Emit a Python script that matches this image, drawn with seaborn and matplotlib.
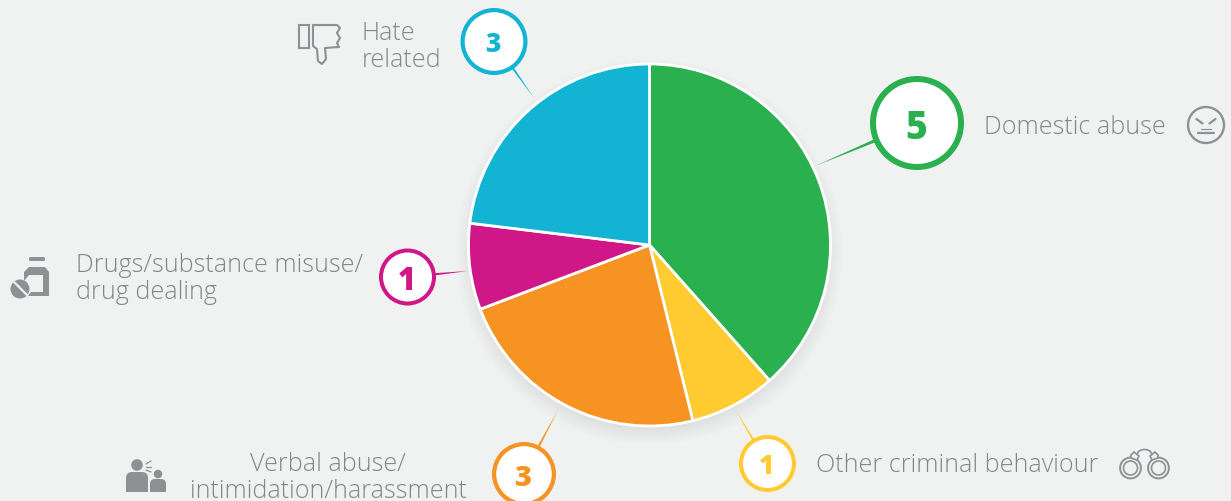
import numpy as np
import matplotlib
matplotlib.use("Agg")
import matplotlib.pyplot as plt
from matplotlib.patches import Circle, Polygon, FancyBboxPatch, Rectangle, Arc
import seaborn as sns

categories = ["Domestic abuse", "Other criminal behaviour",
              "Verbal abuse/\nintimidation/harassment",
              "Drugs/substance misuse/\ndrug dealing", "Hate\nrelated"]
values = [5, 1, 3, 1, 3]
colors = ["#2bb04f", "#ffcb31", "#f69322", "#cf1787", "#13b4d3"]

BG = "#f0f2f1"; GREY = "#8e9194"; TXT = "#84878a"
sns.set_theme(style="white", rc={"figure.facecolor": BG, "axes.facecolor": BG})
plt.rcParams["font.family"] = ["Open Sans", "DejaVu Sans"]
palette = sns.color_palette(colors)

W, H = 1231, 502
fig = plt.figure(figsize=(W/100, H/100), dpi=100)
ax = fig.add_axes([0, 0, 1, 1])
Y = lambda y: H - y

# soft shadow
cx, cy, R = 649.5, 246, 181
for i in range(18):
    ax.add_patch(Circle((cx, Y(cy + 7)), R + 12 - i, fc="#777777", ec="none", alpha=0.009, zorder=1))

ax.pie(values, colors=palette, startangle=90, counterclock=False, center=(cx, Y(cy)), radius=R,
       wedgeprops=dict(ec="white", lw=2.0, zorder=2), frame=False)
ax.set_xlim(0, W); ax.set_ylim(0, H); ax.set_aspect("auto"); ax.axis("off")
fig.patch.set_facecolor(BG)

# badges: centre x, y, outer radius, stroke, font size, leader tip
badges = [(917, 124, 47, 6, 27, (815, 167)),
          (767.5, 464.5, 28.5, 4, 19, (736, 412)),
          (524, 475, 32, 4.2, 21, (558, 411)),
          (407.5, 278, 28.5, 4, 22, (468, 272)),
          (494, 42.5, 33.5, 4.2, 19, (534, 99))]
for (bx, by, br, lw, fs, tip), v, c in zip(badges, values, palette):
    d = np.array([tip[0]-bx, tip[1]-by], float); d /= np.hypot(*d)
    n = np.array([-d[1], d[0]])
    base = np.array([bx, by]) + d * (br - 1)
    hw = 1.5 if br > 40 else 1.1
    pts = [base + n*hw, base - n*hw, tip]
    ax.add_patch(Polygon([(p[0], Y(p[1])) for p in pts], fc=c, ec="none", zorder=3))
    ax.add_patch(Circle((bx, Y(by)), br - lw/2, fc="white", ec=c, lw=lw*0.72, zorder=4))
    ax.text(bx - 1, Y(by), str(v), color=c, fontsize=fs, fontweight=800,
            ha="center", va="center_baseline", zorder=5)

# labels
TS = 18.1
LBL = dict(color=TXT, fontsize=TS, va="center", fontweight="light", linespacing=1.08)
ax.text(984, Y(128), categories[0], ha="left", **LBL)
ax.text(816, Y(466), categories[1], ha="left", **LBL)
ax.text(328, Y(478), categories[2], ha="center", **LBL)
ax.text(76, Y(279), categories[3], ha="left", **LBL)
ax.text(362, Y(47), categories[4], ha="left", **LBL)

# icon: angry face
IL = dict(color=GREY, lw=1.6, solid_capstyle="round", zorder=5)
ax.add_patch(Circle((1206, Y(126)), 18, fc="none", ec=GREY, lw=1.7))
ax.plot([1196.5, 1202.5], [Y(120), Y(124.5)], **IL)
ax.plot([1215.5, 1209.5], [Y(120), Y(124.5)], **IL)
ax.plot([1198, 1214], [Y(134), Y(134)], **IL)
ax.plot([1201, 1211], [Y(130), Y(130)], color=GREY, lw=0.9)

# icon: thumbs down
ax.add_patch(Rectangle((299, Y(49)), 10, 23, fc="none", ec=GREY, lw=1.5))
thumb = [(313, 26), (337, 26), (340, 29), (337, 34), (340, 39), (337, 44), (339, 48), (325, 49),
         (326, 60), (322, 65), (318, 62), (317, 50), (313, 47)]
ax.add_patch(Polygon([(x, Y(y)) for x, y in thumb], closed=True, fc="none", ec=GREY, lw=1.5, joinstyle="round"))

# icon: pills
ax.add_patch(FancyBboxPatch((29, Y(262)), 16, 4, boxstyle="round,pad=0,rounding_size=1.5", fc=GREY, ec="none"))
body = [(29, 268), (45, 268), (49, 273), (49, 297), (28, 297), (31, 293), (43, 293), (43, 276), (29, 276), (24, 282), (24, 273)]
ax.add_patch(Polygon([(x, Y(y)) for x, y in body], closed=True, fc=GREY, ec="none"))
ax.add_patch(Circle((20, Y(290)), 9.5, fc=GREY, ec="none"))
ax.plot([14, 27], [Y(283), Y(296)], color=BG, lw=1.6)

# icon: two people
ax.add_patch(Circle((137, Y(466)), 5.8, fc=GREY, ec="none"))
ax.add_patch(FancyBboxPatch((126, Y(493)), 22, 20, boxstyle="round,pad=0,rounding_size=6", fc=GREY, ec="none"))
ax.add_patch(Rectangle((126, Y(493)), 22, 8, fc=GREY, ec="none"))
ax.add_patch(Circle((158, Y(475)), 4.3, fc=GREY, ec="none"))
ax.add_patch(FancyBboxPatch((150, Y(493)), 16, 13, boxstyle="round,pad=0,rounding_size=5", fc=GREY, ec="none"))
ax.add_patch(Rectangle((150, Y(493)), 16, 6, fc=GREY, ec="none"))
for a, b in [((146, 465), (151, 462)), ((146, 468), (151, 468)), ((146, 471), (151, 473))]:
    ax.plot([a[0], b[0]], [Y(a[1]), Y(b[1])], color=GREY, lw=0.9)

# icon: handcuffs
for x in (1130.5, 1158.5):
    ax.add_patch(Circle((x, Y(469)), 10.4, fc="none", ec=GREY, lw=1.4))
    ax.add_patch(Circle((x, Y(469)), 7, fc="none", ec=GREY, lw=1.2))
ax.add_patch(Polygon([(1131, Y(456)), (1134, Y(453)), (1139, Y(457)), (1137, Y(461)), (1131, Y(459))], fc=BG, ec=GREY, lw=1.2))
ax.add_patch(Polygon([(1158, Y(456)), (1155, Y(453)), (1150, Y(457)), (1152, Y(461)), (1158, Y(459))], fc=BG, ec=GREY, lw=1.2))
ax.add_patch(Arc((1144.5, Y(455)), 14, 9, theta1=0, theta2=180, ec=GREY, lw=1.2))

fig.savefig("out.png", dpi=100, facecolor=BG)
